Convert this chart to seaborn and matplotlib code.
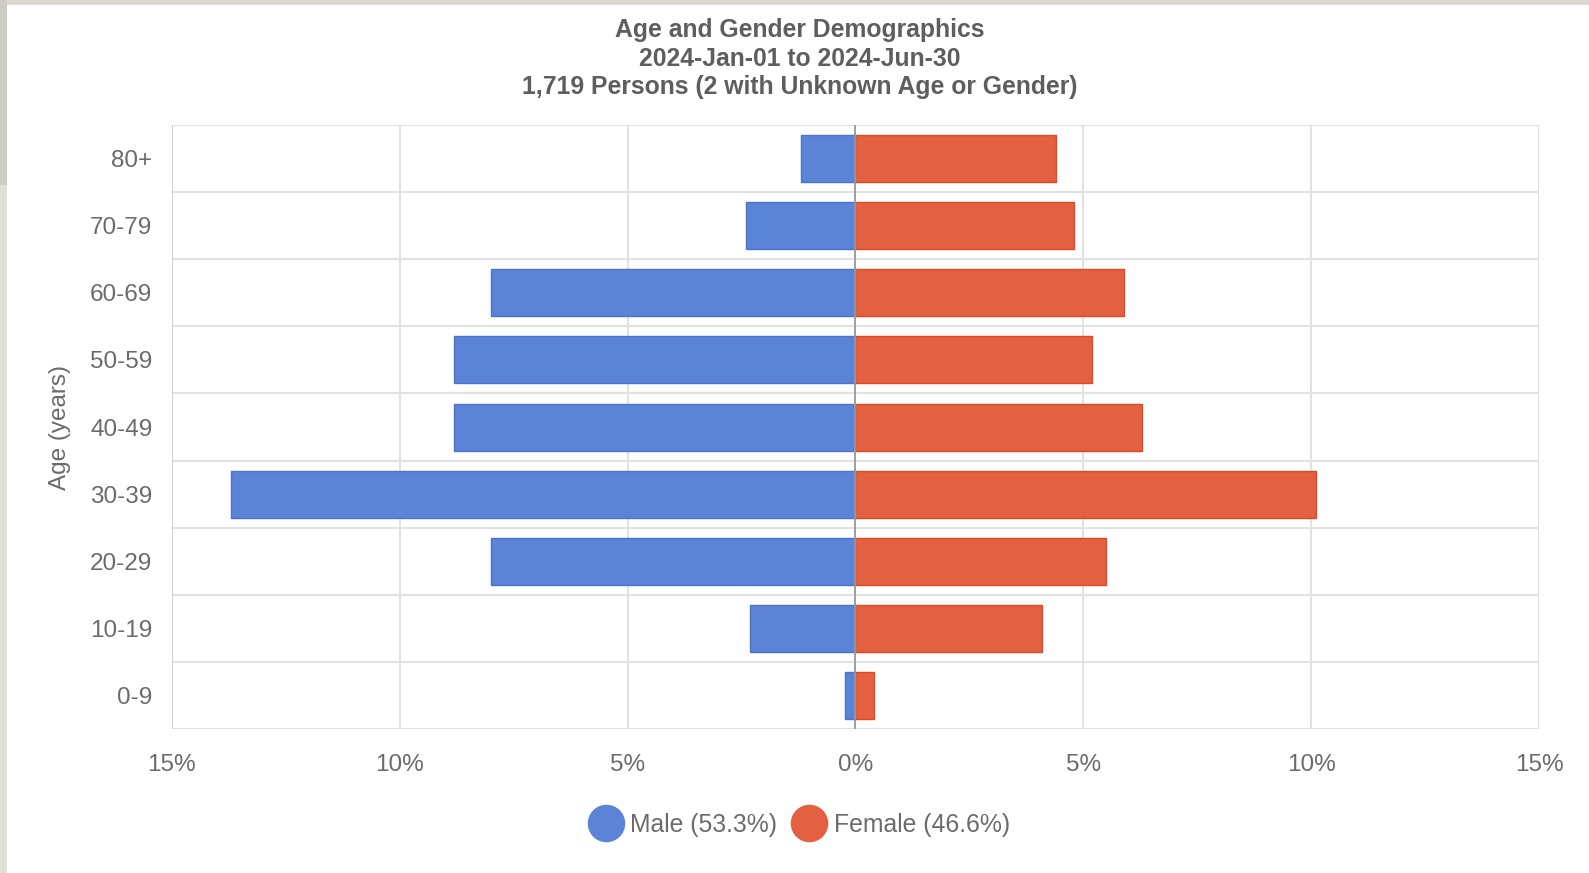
"""Age and gender population pyramid."""
import matplotlib
matplotlib.use("Agg")
import matplotlib.pyplot as plt
from matplotlib.lines import Line2D
from matplotlib.patches import Rectangle
from matplotlib.ticker import FuncFormatter, FixedLocator
import seaborn as sns
import pandas as pd
import numpy as np

# data (share of all persons, %)
age_groups = ['80+', '70-79', '60-69', '50-59', '40-49', '30-39', '20-29', '10-19', '0-9']
male_pct = [1.20, 2.40, 8.00, 8.82, 8.82, 13.70, 8.00, 2.32, 0.23]
female_pct = [4.40, 4.80, 5.90, 5.20, 6.28, 10.10, 5.50, 4.10, 0.40]
legend_labels = ['Male (53.3%)', 'Female (46.6%)']
x_ticks = [-15, -10, -5, 0, 5, 10, 15]

title = ("Age and Gender Demographics\n"
         "2024-Jan-01 to 2024-Jun-30\n"
         "1,719 Persons (2 with Unknown Age or Gender)")

male_fill, female_fill = '#5b84d6', '#e36040'
male_edge, female_edge = '#4a74cf', '#dc4a26'
text_grey = '#6b6b6b'

df = pd.DataFrame({
    'age': age_groups * 2,
    'pct': [-v for v in male_pct] + female_pct,
    'gender': ['Male'] * len(age_groups) + ['Female'] * len(age_groups),
})

sns.set_style("white")
plt.rcParams['font.family'] = ['Liberation Sans', 'DejaVu Sans']

fig = plt.figure(figsize=(15.89, 8.73), dpi=100, facecolor='white')
ax = fig.add_axes([0.1082, 0.1649, 0.8603, 0.6919])

sns.barplot(data=df, x='pct', y='age', hue='gender', order=age_groups,
            hue_order=['Male', 'Female'], dodge=False, width=0.7,
            palette={'Male': male_fill, 'Female': female_fill}, saturation=1,
            orient='h', legend=False, ax=ax, zorder=3)
for cont, ec in zip(ax.containers, [male_edge, female_edge]):
    for bar in cont:
        bar.set_edgecolor(ec)
        bar.set_linewidth(1.0)

ax.set_xlim(-15, 15)
ax.set_ylim(len(age_groups) - 0.5, -0.5)
for s in ax.spines.values():
    s.set_visible(False)

# x axis: gridlines at each 5%, labelled as absolute values
ax.xaxis.set_major_locator(FixedLocator(x_ticks))
ax.xaxis.set_major_formatter(FuncFormatter(lambda v, p: f"{abs(v):.0f}%"))
ax.grid(axis='x', which='major', color='#dcdcdc', linewidth=1.2, zorder=0)
ax.tick_params(axis='x', length=11, width=1.2, color='#dcdcdc', pad=7,
               labelsize=17.5, labelcolor=text_grey)
ax.axvline(0, color='#999999', linewidth=1.3, zorder=4)
ax.axvline(-15, color='#cccccc', linewidth=1.3, zorder=1)

# y axis: gridlines between the age groups
ax.yaxis.set_minor_locator(FixedLocator(np.arange(-0.5, len(age_groups), 1.0)))
ax.grid(axis='y', which='minor', color='#e2e2e2', linewidth=1.5, zorder=0)
ax.tick_params(axis='y', which='minor', length=14, width=1.5, color='#e2e2e2')
ax.tick_params(axis='y', which='major', length=0, pad=14,
               labelsize=17.5, labelcolor=text_grey)
ax.set_xlabel('')
ax.set_ylabel('Age (years)', fontsize=17.5, color=text_grey, labelpad=14)

fig.text(0.503, 0.979, title, ha='center', va='top', fontsize=17.8,
         fontweight='bold', color='#5e5e5e', linespacing=1.23)

handles = [Line2D([], [], marker='o', linestyle='', markersize=26,
                  markerfacecolor=c, markeredgecolor=c)
           for c in [male_fill, female_fill]]
fig.legend(handles, legend_labels, loc='center', bbox_to_anchor=(0.5026, 0.055),
           ncol=2, frameon=False, fontsize=17.8, labelcolor=text_grey,
           handletextpad=0.25, columnspacing=0.55, handlelength=1.5)

# screenshot frame
fig.patches.append(Rectangle((0, 1 - 5 / 873), 1, 5 / 873, transform=fig.transFigure,
                             facecolor='#dcd8d2', edgecolor='none', zorder=-1))
fig.patches.append(Rectangle((0, 0), 7 / 1589, 1, transform=fig.transFigure,
                             facecolor='#e2dfda', edgecolor='none', zorder=-1))
fig.patches.append(Rectangle((0, 1 - 185 / 873), 7 / 1589, 185 / 873,
                             transform=fig.transFigure,
                             facecolor='#cfcbc5', edgecolor='none', zorder=-1))

plt.savefig("out.png", dpi=100)
